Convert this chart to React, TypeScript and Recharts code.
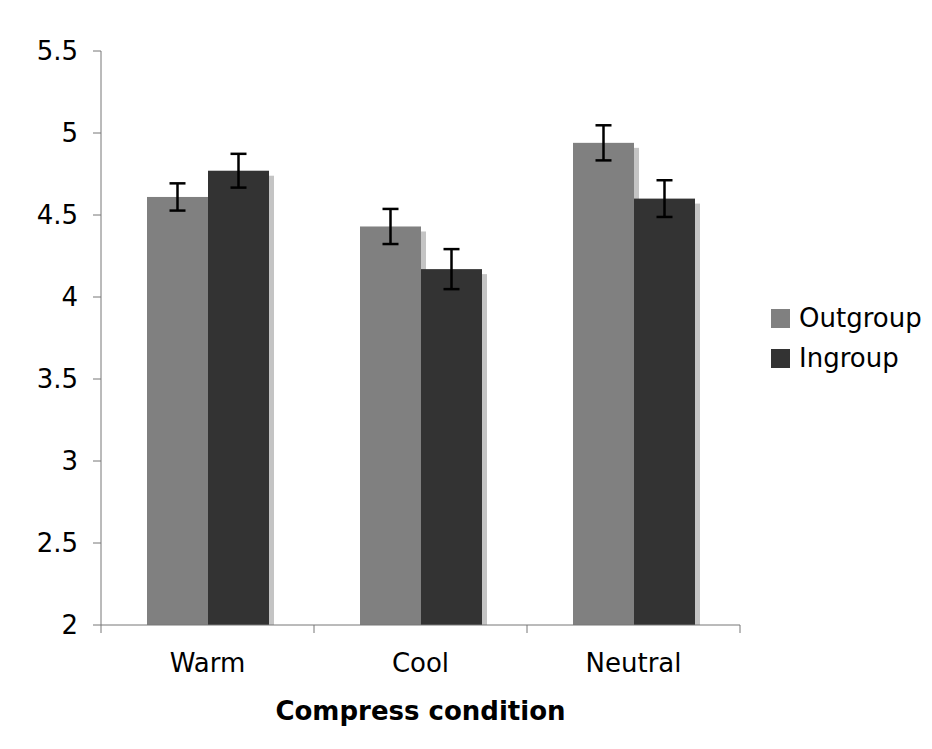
import React from 'react';
import { BarChart, Bar, XAxis, YAxis, ErrorBar, Legend, Label } from 'recharts';

const categories = ['Warm', 'Cool', 'Neutral'];
const outgroupValues = [4.61, 4.43, 4.94];
const outgroupErrors = [0.083, 0.107, 0.107];
const ingroupValues = [4.77, 4.17, 4.6];
const ingroupErrors = [0.103, 0.122, 0.112];
const yTicks = [2, 2.5, 3, 3.5, 4, 4.5, 5, 5.5];

const seriesNames = ['Outgroup', 'Ingroup'];
const seriesColors = ['#808080', '#333333'];
const SHADOW = '#c4c4c4';
const FONT = '"DejaVu Sans", Verdana, sans-serif';

const data = categories.map((c, i) => ({
  name: c,
  Outgroup: outgroupValues[i],
  outErr: outgroupErrors[i],
  Ingroup: ingroupValues[i],
  inErr: ingroupErrors[i],
}));

const ShadowBar = (props: any) => {
  const { x, y, width, height, fill } = props;
  if (width == null || height == null) return null;
  return (
    <g>
      <rect x={x + 5} y={y + 5} width={width} height={Math.max(0, height - 5)} fill={SHADOW} />
      <rect x={x} y={y} width={width} height={height} fill={fill} />
    </g>
  );
};

const TICK_SIZE = 8;
const CategoryTick = (props: any) => {
  const { x, y, payload, index, visibleTicksCount } = props;
  const axisY = y - TICK_SIZE;
  const half = payload && payload.offset != null ? payload.offset : 0;
  const last = index === (visibleTicksCount ?? categories.length) - 1;
  return (
    <g>
      <line x1={x - half} x2={x - half} y1={axisY} y2={axisY + TICK_SIZE} stroke="#777" strokeWidth={1} />
      {last && (
        <line x1={x + half} x2={x + half} y1={axisY} y2={axisY + TICK_SIZE} stroke="#777" strokeWidth={1} />
      )}
      <text x={x} y={axisY + 38} dy="0.355em" textAnchor="middle" fontSize={26} fontFamily={FONT} fill="#000">
        {payload.value}
      </text>
    </g>
  );
};

const LegendContent = () => (
  <div style={{ fontFamily: FONT, fontSize: 26, color: '#000' }}>
    {seriesNames.map((n, i) => (
      <div key={n} style={{ display: 'flex', alignItems: 'center', height: 40 }}>
        <div style={{ width: 19, height: 19, background: seriesColors[i], marginRight: 9 }} />
        <span>{n}</span>
      </div>
    ))}
  </div>
);

export default function App() {
  return (
    <BarChart
      width={916}
      height={733}
      data={data}
      margin={{ top: 43, right: 184, bottom: 0, left: 0 }}
      barSize={61}
      barGap={0}
    >
      <XAxis
        dataKey="name"
        height={116}
        axisLine={{ stroke: '#777' }}
        tickLine={false}
        tickSize={TICK_SIZE}
        tickMargin={0}
        tick={<CategoryTick />}
        interval={0}
      >
        <Label
          value="Compress condition"
          position="insideBottom"
          offset={21}
          style={{ fontFamily: FONT, fontSize: 26, fontWeight: 'bold', fill: '#000' }}
        />
      </XAxis>
      <YAxis
        width={93}
        domain={[2, 5.5]}
        ticks={yTicks}
        interval={0}
        axisLine={{ stroke: '#777' }}
        tickLine={{ stroke: '#777' }}
        tickSize={TICK_SIZE}
        tickMargin={15}
        tick={{ fontFamily: FONT, fontSize: 26, fill: '#000' }}
        allowDataOverflow
      />
      <Legend
        layout="vertical"
        align="center"
        verticalAlign="middle"
        wrapperStyle={{ left: 763, top: 290, width: 'auto' }}
        content={<LegendContent />}
      />
      <Bar dataKey="Outgroup" fill={seriesColors[0]} shape={<ShadowBar />} isAnimationActive={false}>
        <ErrorBar dataKey="outErr" width={8} stroke="#000" strokeWidth={2.5} />
      </Bar>
      <Bar dataKey="Ingroup" fill={seriesColors[1]} shape={<ShadowBar />} isAnimationActive={false}>
        <ErrorBar dataKey="inErr" width={8} stroke="#000" strokeWidth={2.5} />
      </Bar>
    </BarChart>
  );
}
